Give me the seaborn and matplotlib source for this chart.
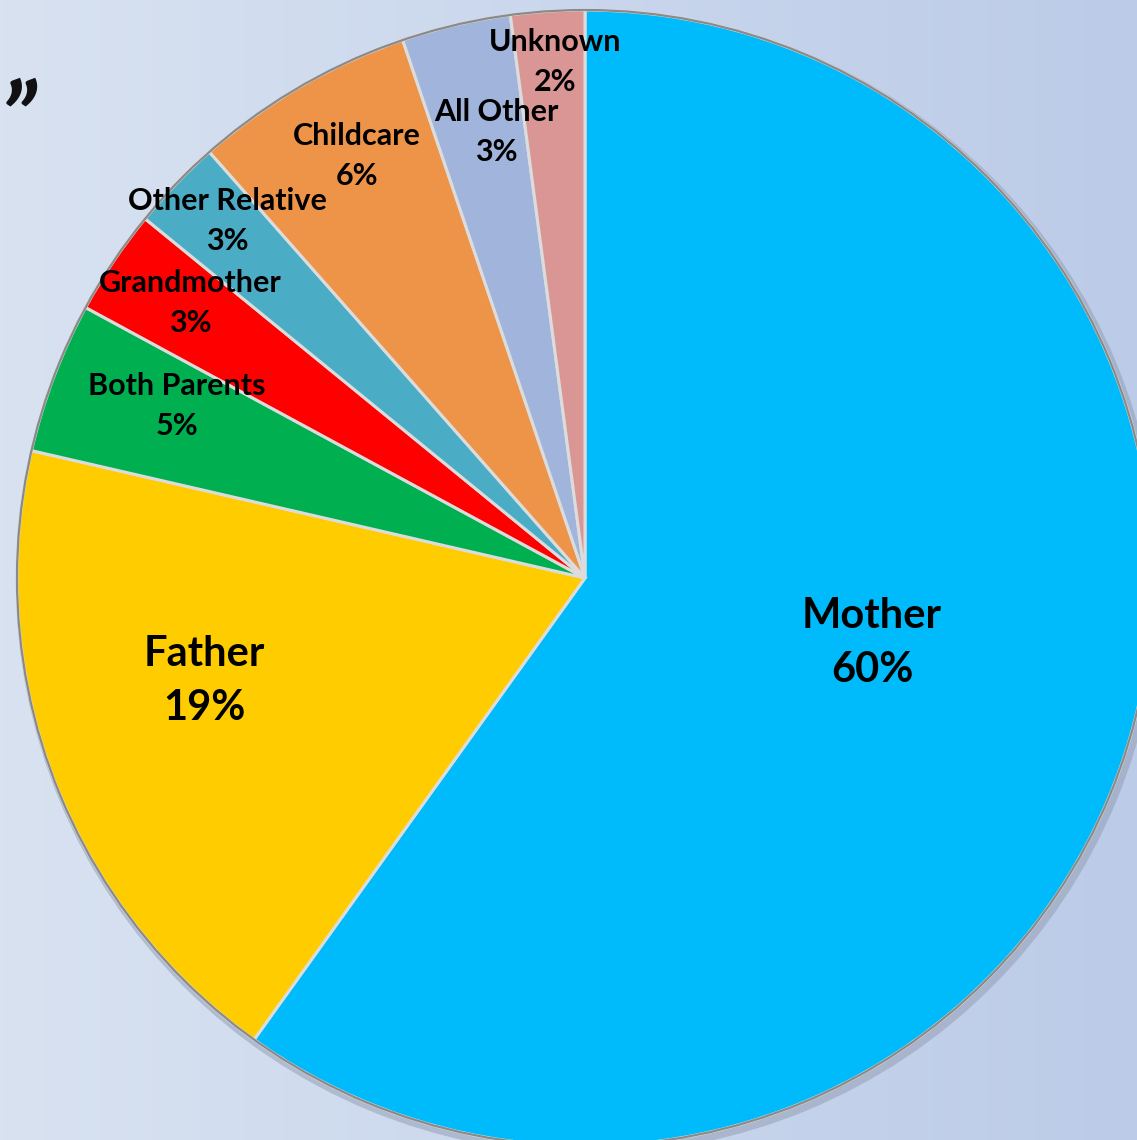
import numpy as np
import matplotlib.pyplot as plt
import seaborn as sns
from matplotlib.colors import LinearSegmentedColormap

# slice data, clockwise from 12 o'clock
categories = ["Mother", "Father", "Both Parents", "Grandmother",
              "Other Relative", "Childcare", "All Other", "Unknown"]
shares = [59.9, 18.7, 4.3, 3.0, 2.6, 6.3, 3.1, 2.1]
pct_labels = ["60%", "19%", "5%", "3%", "3%", "6%", "3%", "2%"]
colors = ["#00bbfb", "#ffcc00", "#00b050", "#ff0000",
          "#4bacc6", "#ee9448", "#a0b4dc", "#d99694"]

# label centres in image pixels (x, y from top)
label_pos = [(872, 643), (204, 681), (177, 406), (190, 303),
             (227, 221), (357, 156), (496, 132), (555, 62)]
W, H = 1137, 1140

sns.set_theme(style="white")
plt.rcParams['font.family'] = ['Lato', 'DejaVu Sans']

fig = plt.figure(figsize=(W / 100, H / 100), dpi=100)

# background gradient
bg = fig.add_axes([0, 0, 1, 1])
grad = np.linspace(0, 1, 256).reshape(1, -1)
cmap = LinearSegmentedColormap.from_list("bg", ["#d8e2f1", "#bccbe8"])
bg.imshow(grad, aspect="auto", cmap=cmap, extent=[0, 1, 0, 1])
bg.set_axis_off()

ax = fig.add_axes([0, 0, 1, 1])
ax.patch.set_alpha(0)

cx, cy, R = 585, H - 578, 568

# soft shadow
ax.pie([1], colors=["#8f9bb0"], radius=R + 4, center=(cx + 3, cy - 4),
       wedgeprops=dict(linewidth=0, alpha=0.5))

wedges, _ = ax.pie(shares, colors=colors, startangle=90, counterclock=False,
                   radius=R, center=(cx, cy),
                   wedgeprops=dict(edgecolor="#dcdcdc", linewidth=2.2))
ax.pie([1], colors=["none"], radius=R, center=(cx, cy),
       wedgeprops=dict(edgecolor="#8a8a8a", linewidth=1.6, fill=False))

# pie() resets the limits, so set them afterwards
ax.set_xlim(0, W)
ax.set_ylim(0, H)
ax.set_aspect("equal")
ax.set_axis_off()

for i, (name, pct) in enumerate(zip(categories, pct_labels)):
    x, y = label_pos[i]
    big = i < 2
    ax.text(x, H - y, f"{name}\n{pct}", ha="center", va="center",
            fontsize=30 if big else 22, fontweight="bold", color="black",
            linespacing=1.5 if big else 1.55)

# leftover closing quote of a cut-off title
ax.text(0, H - 80, "\u201d", ha="left", va="top", fontsize=72,
        fontweight="bold", style="italic", color="#111111")

fig.savefig("out.png", dpi=100)
